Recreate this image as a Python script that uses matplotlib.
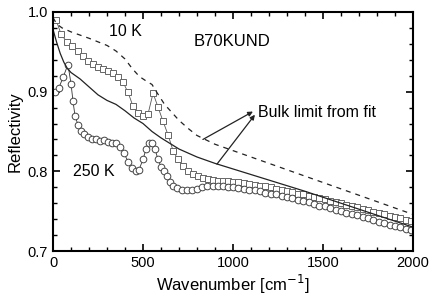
import matplotlib
matplotlib.use("Agg")
import matplotlib.pyplot as plt
from matplotlib.ticker import MultipleLocator

plt.rcParams['font.family'] = ['Liberation Sans', 'DejaVu Sans']

# 10 K data (squares)
x_10k = [17, 45, 78, 106, 139, 167, 194, 222, 250, 278, 306, 333, 361, 389, 417, 444, 472,
         500, 528, 556, 583, 611, 639, 667, 694, 722, 750, 778, 806, 833, 861, 889, 917, 944,
         972, 1000, 1030, 1060, 1090, 1120, 1150, 1180, 1210, 1240, 1270, 1300, 1330, 1360,
         1390, 1420, 1450, 1480, 1510, 1540, 1570, 1600, 1630, 1660, 1690, 1720, 1750, 1780,
         1810, 1840, 1870, 1900, 1930, 1960, 1990]
r_10k = [0.990, 0.972, 0.962, 0.957, 0.951, 0.945, 0.938, 0.935, 0.931, 0.928, 0.926, 0.923,
         0.919, 0.912, 0.899, 0.882, 0.873, 0.869, 0.872, 0.898, 0.881, 0.863, 0.846, 0.826,
         0.815, 0.807, 0.801, 0.797, 0.794, 0.791, 0.790, 0.789, 0.788, 0.788, 0.788, 0.787,
         0.786, 0.785, 0.784, 0.783, 0.782, 0.781, 0.780, 0.778, 0.777, 0.775, 0.774, 0.772,
         0.771, 0.769, 0.768, 0.766, 0.765, 0.763, 0.761, 0.760, 0.758, 0.756, 0.755, 0.753,
         0.751, 0.749, 0.748, 0.746, 0.744, 0.743, 0.741, 0.739, 0.738]

# 250 K data (circles)
x_250k = [11, 33, 56, 83, 100, 111, 122, 139, 156, 172, 194, 217, 239, 261, 283, 306, 328,
          350, 372, 394, 417, 439, 461, 478, 500, 517, 533, 550, 567, 583, 600, 617, 633, 650,
          667, 689, 717, 744, 772, 800, 828, 856, 889, 917, 944, 972, 1000, 1030, 1060, 1090,
          1120, 1150, 1180, 1210, 1240, 1270, 1300, 1330, 1360, 1390, 1420, 1450, 1480, 1510,
          1540, 1570, 1600, 1630, 1660, 1690, 1720, 1750, 1780, 1810, 1840, 1870, 1900, 1930,
          1960, 1990]
r_250k = [0.899, 0.905, 0.918, 0.934, 0.910, 0.888, 0.870, 0.858, 0.851, 0.847, 0.843, 0.841,
          0.840, 0.838, 0.839, 0.837, 0.836, 0.835, 0.830, 0.823, 0.812, 0.804, 0.800, 0.802,
          0.815, 0.828, 0.835, 0.836, 0.828, 0.815, 0.806, 0.800, 0.794, 0.787, 0.782, 0.779,
          0.777, 0.776, 0.777, 0.778, 0.780, 0.781, 0.781, 0.781, 0.781, 0.780, 0.780, 0.779,
          0.778, 0.777, 0.776, 0.775, 0.773, 0.772, 0.771, 0.769, 0.768, 0.766, 0.764, 0.763,
          0.761, 0.759, 0.757, 0.756, 0.754, 0.752, 0.750, 0.748, 0.746, 0.745, 0.743, 0.741,
          0.739, 0.737, 0.735, 0.733, 0.732, 0.730, 0.728, 0.726]

# bulk fits
x_fit10 = [0, 20, 50, 100, 200, 300, 350, 400, 440, 480, 520, 550, 580, 620, 660, 700, 750,
           800, 900, 1000, 1200, 1400, 1600, 1800, 2000]
r_fit10 = [0.993, 0.985, 0.980, 0.975, 0.967, 0.958, 0.951, 0.941, 0.929, 0.919, 0.913,
           0.909, 0.898, 0.884, 0.874, 0.864, 0.854, 0.845, 0.834, 0.826, 0.810, 0.794,
           0.778, 0.762, 0.746]
x_fit250 = [0, 20, 40, 60, 80, 100, 150, 200, 250, 300, 350, 400, 450, 500, 550, 600, 650,
            700, 800, 900, 1000, 1200, 1400, 1600, 1800, 2000]
r_fit250 = [0.978, 0.962, 0.948, 0.937, 0.929, 0.924, 0.916, 0.906, 0.896, 0.889, 0.884,
            0.876, 0.867, 0.860, 0.850, 0.842, 0.835, 0.828, 0.818, 0.810, 0.803, 0.789,
            0.775, 0.760, 0.745, 0.730]

fig = plt.figure(figsize=(4.36, 2.99), dpi=100)
ax = fig.add_axes([0.1216, 0.1605, 0.8254, 0.7995])

ax.plot(x_10k, r_10k, color='#555555', lw=0.6, marker='s', ms=4.8, mfc='white',
        mec='#666666', mew=0.7)
ax.plot(x_250k, r_250k, color='#333333', lw=0.6, marker='o', ms=4.8, mfc='white',
        mec='#444444', mew=0.7)
ax.plot(x_fit10, r_fit10, color='#222222', lw=0.9, ls=(0, (4, 4)))
ax.plot(x_fit250, r_fit250, color='#222222', lw=0.9)

ax.text(1139, 0.874, "Bulk limit from fit", fontsize=11.5, va='center', ha='left')
ax.annotate("", xy=(1122, 0.871), xytext=(911, 0.809),
            arrowprops=dict(arrowstyle='-|>', color='#222222', lw=0.9,
                            mutation_scale=7, shrinkA=0, shrinkB=0))
ax.annotate("", xy=(1111, 0.875), xytext=(833, 0.840),
            arrowprops=dict(arrowstyle='-|>', color='#222222', lw=0.9,
                            mutation_scale=7, shrinkA=0, shrinkB=0))

ax.text(405, 0.975, "10 K", fontsize=11.5, ha='center', va='center')
ax.text(994, 0.9625, "B70KUND", fontsize=12, ha='center', va='center')
ax.text(228, 0.800, "250 K", fontsize=11.5, ha='center', va='center')

ax.set_xlim(0, 2000)
ax.set_ylim(0.7, 1.0)
ax.xaxis.set_major_locator(MultipleLocator(500))
ax.xaxis.set_minor_locator(MultipleLocator(100))
ax.yaxis.set_major_locator(MultipleLocator(0.1))
ax.yaxis.set_minor_locator(MultipleLocator(0.02))
ax.tick_params(which='both', direction='in', top=True, right=True, labelsize=10.5)
ax.tick_params(which='major', length=5, width=1.2)
ax.tick_params(which='minor', length=3, width=1.0)
for s in ax.spines.values():
    s.set_linewidth(1.5)

ax.set_xlabel("Wavenumber [cm$^{-1}$]", fontsize=12, labelpad=2)
ax.set_ylabel("Reflectivity", fontsize=12, labelpad=4)

fig.savefig("out.png", dpi=100)
